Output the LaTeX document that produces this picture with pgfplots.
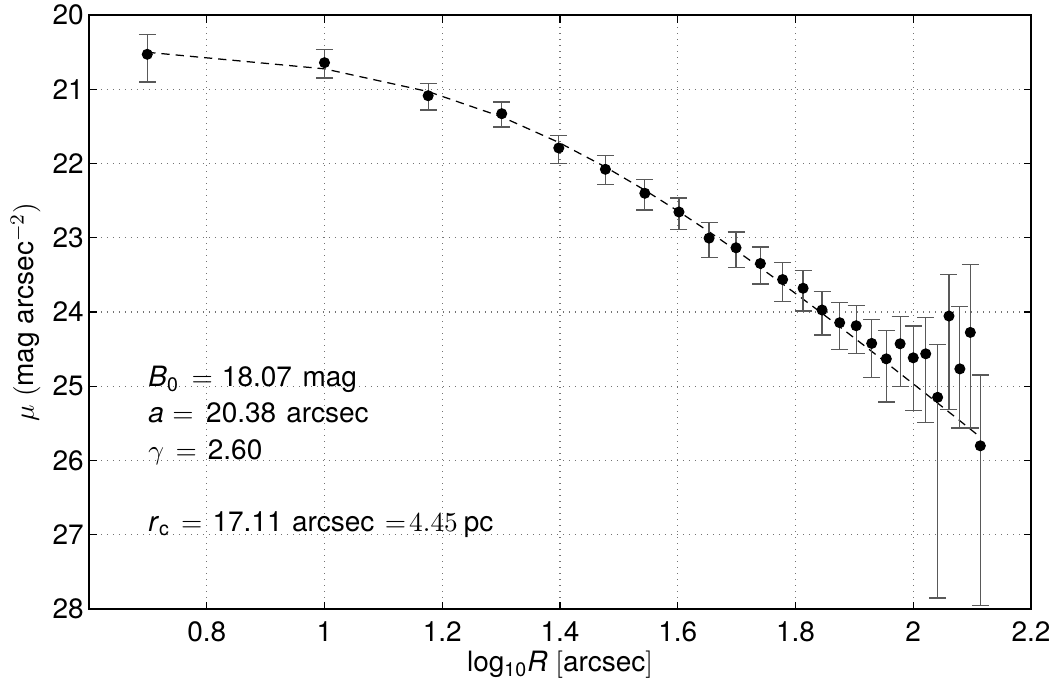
\documentclass[border=0pt]{standalone}
\usepackage{pgfplots}
\pgfplotsset{compat=1.18}
\usepackage{fontspec}
\setmainfont{TeX Gyre Heros}
\newcommand\ff{\fontsize{11.2}{13.4}\selectfont}

\begin{document}
\begin{tikzpicture}
\begin{axis}[
  name=ax,
  scale only axis,
  width=376.8pt, height=237.6pt,
  xmin=0.6, xmax=2.2,
  ymin=20, ymax=28,
  y dir=reverse,
  xtick={0.8,1,1.2,1.4,1.6,1.8,2,2.2},
  ytick={20,21,...,28},
  xticklabels={0.8,1,1.2,1.4,1.6,1.8,2,2.2},
  /pgf/number format/assume math mode=true,
  tick align=inside,
  major tick length=3pt,
  tick style={black, line width=0.5pt},
  axis line style={line width=0.7pt},
  grid=major,
  major grid style={black!55, dotted, line width=0.5pt},
  tick label style={font=\ff},
  xticklabel style={yshift=-1.4pt},
  yticklabel style={xshift=1.4pt},
  xlabel={log\textsubscript{10}\textit{R} $[$arcsec$]$},
  ylabel={$\mu$ $($mag arcsec$^{-2})$},
  label style={font=\ff},
  xlabel style={yshift=3pt},
  ylabel style={yshift=-2pt},
]
% fitted profile (dashed)
\addplot[black, line width=0.5pt, dash pattern=on 3.3pt off 2.4pt] coordinates {
(0.69897,20.502)(1.00000,20.725)(1.17609,21.031)(1.30103,21.372)(1.39794,21.716)
(1.47712,22.047)(1.54407,22.359)(1.60206,22.649)(1.65321,22.919)(1.69897,23.170)
(1.74036,23.404)(1.77815,23.622)(1.81291,23.827)(1.84510,24.018)(1.87506,24.199)
(1.90309,24.369)(1.92942,24.530)(1.95424,24.683)(1.97772,24.829)(2.00000,24.968)
(2.02119,25.100)(2.04139,25.227)(2.06070,25.348)(2.07918,25.465)(2.09691,25.577)
(2.11394,25.685)};
% data with asymmetric errors
\addplot[only marks, mark=*, mark size=2pt, black,
  error bars/.cd, y dir=both, y explicit,
  error bar style={black!65, line width=0.5pt},
  error mark options={rotate=90, mark size=3.4pt, black!65, line width=0.5pt}]
coordinates {
(0.69897,20.529) += (0,0.373) -= (0,0.264)
(1.00000,20.642) += (0,0.206) -= (0,0.181)
(1.17609,21.087) += (0,0.192) -= (0,0.162)
(1.30103,21.329) += (0,0.179) -= (0,0.157)
(1.39794,21.791) += (0,0.206) -= (0,0.166)
(1.47712,22.078) += (0,0.202) -= (0,0.183)
(1.54407,22.401) += (0,0.225) -= (0,0.190)
(1.60206,22.653) += (0,0.239) -= (0,0.189)
(1.65321,23.005) += (0,0.265) -= (0,0.212)
(1.69897,23.135) += (0,0.266) -= (0,0.212)
(1.74036,23.347) += (0,0.275) -= (0,0.221)
(1.77815,23.563) += (0,0.297) -= (0,0.234)
(1.81291,23.680) += (0,0.306) -= (0,0.234)
(1.84510,23.973) += (0,0.338) -= (0,0.252)
(1.87506,24.144) += (0,0.361) -= (0,0.270)
(1.90309,24.185) += (0,0.369) -= (0,0.275)
(1.92942,24.423) += (0,0.455) -= (0,0.319)
(1.95424,24.631) += (0,0.581) -= (0,0.379)
(1.97772,24.428) += (0,0.577) -= (0,0.369)
(2.00000,24.617) += (0,0.712) -= (0,0.428)
(2.02119,24.563) += (0,0.923) -= (0,0.491)
(2.04139,25.149) += (0,2.702) -= (0,0.712)
(2.06070,24.054) += (0,1.261) -= (0,0.563)
(2.07918,24.766) += (0,0.797) -= (0,0.843)
(2.09691,24.275) += (0,1.288) -= (0,0.919)
(2.11394,25.802) += (0,2.148) -= (0,0.955)
};
\node[anchor=base west, inner sep=0pt, font=\ff] at (axis cs:0.700,25.006)
  {\textit{B}\textsubscript{0}\hspace{5pt}$=$\hspace{3.6pt}18.07\hspace{4.2pt}mag};
\node[anchor=base west, inner sep=0pt, font=\ff] at (axis cs:0.700,25.486)
  {\textit{a}\hspace{3.4pt}$=$\hspace{5pt}20.38\hspace{4pt}arcsec};
\node[anchor=base west, inner sep=0pt, font=\ff] at (axis cs:0.700,25.984)
  {$\gamma$\hspace{4.6pt}$=$\hspace{4.4pt}2.60};
\node[anchor=base west, inner sep=0pt, font=\ff] at (axis cs:0.700,26.959)
  {\textit{r}\textsubscript{c}\hspace{4.4pt}$=$\hspace{4pt}17.11\hspace{3.8pt}arcsec\hspace{4.2pt}$=\!4.45$\hspace{2.4pt}pc};
\end{axis}
\pgfresetboundingbox
\path[use as bounding box] ([xshift=-35.6pt,yshift=-29.6pt]ax.south west) rectangle ([xshift=11.2pt,yshift=6pt]ax.north east);
\end{tikzpicture}
\end{document}
